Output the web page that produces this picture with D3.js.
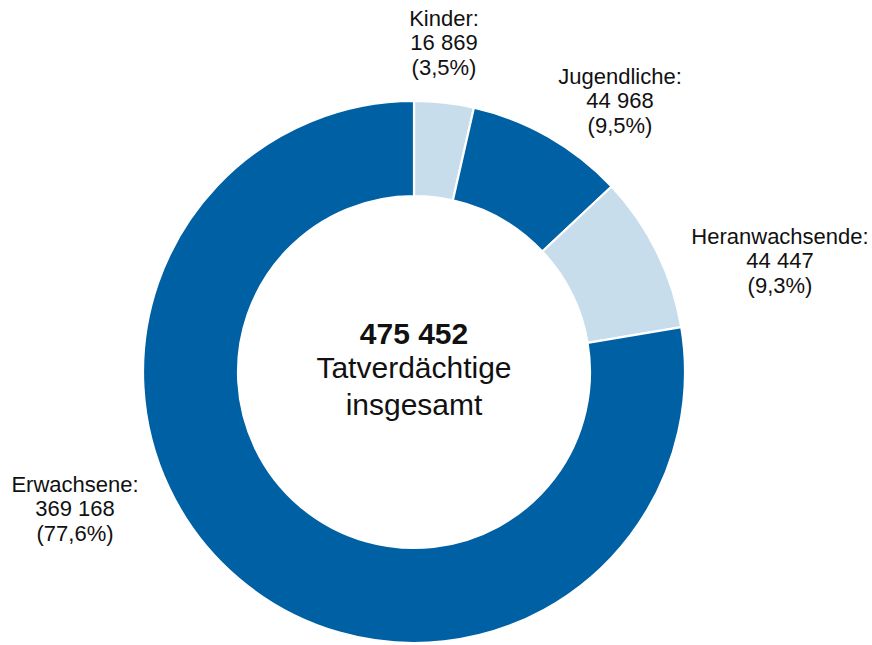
<!DOCTYPE html>
<html>
<head>
<meta charset="utf-8">
<script src="https://cdn.jsdelivr.net/npm/d3@7"></script>
<style>
  body { margin: 0; background: #fff; }
  text { font-family: "Liberation Sans", Arial, sans-serif; fill: #111; }
</style>
</head>
<body>
<svg id="chart" width="872" height="645"></svg>
<script>
// categories and counts (Tatverdächtige)
var categories = ["Kinder", "Jugendliche", "Heranwachsende", "Erwachsene"];
var values = [16869, 44968, 44447, 369168];
var shades = ["light", "dark", "light", "dark"];
var centerLines = ["Tatverdächtige", "insgesamt"];

var width = 872, height = 645;
var cx = 414, cy = 372;
var outerR = 271, innerR = 176;

var colors = { dark: "#0060a4", light: "#c8ddec" };

// label anchor (middle line baseline) relative to centre
var labelPos = {
    "Kinder":         [30, -322],
    "Jugendliche":    [206, -264],
    "Heranwachsende": [366, -104],
    "Erwachsene":     [-339, 144]
};

var de = d3.formatLocale({decimal: ",", thousands: " ", grouping: [3], currency: ["", " €"]});
var fmtNum = de.format(",d");
var fmtPct = de.format(".1f");

var total = d3.sum(values);
var data = categories.map(function (c, i) {
    return {name: c, value: values[i], shade: shades[i]};
});

var svg = d3.select("#chart");
var g = svg.append("g").attr("transform", "translate(" + cx + "," + cy + ")");

var pie = d3.pie().sort(null).value(function (d) { return d.value; });
var arc = d3.arc().innerRadius(innerR).outerRadius(outerR);

g.selectAll("path.slice")
    .data(pie(data))
    .enter().append("path")
    .attr("class", "slice")
    .attr("d", arc)
    .attr("fill", function (d) { return colors[d.data.shade]; })
    .attr("stroke", "#fff")
    .attr("stroke-width", 2.2);

// slice labels
var lineH = 24.5;
data.forEach(function (d) {
    var p = labelPos[d.name];
    var t = g.append("text")
        .attr("text-anchor", "middle")
        .attr("font-size", 22);
    var lines = [d.name + ":", fmtNum(d.value), "(" + fmtPct(d.value / total * 100) + "%)"];
    lines.forEach(function (l, i) {
        t.append("tspan")
            .attr("x", p[0])
            .attr("y", p[1] + (i - 1) * lineH)
            .text(l);
    });
});

// centre text
g.append("text")
    .attr("text-anchor", "middle")
    .attr("y", -28)
    .attr("font-size", 30)
    .attr("font-weight", "bold")
    .text(fmtNum(total));

centerLines.forEach(function (l, i) {
    g.append("text")
        .attr("text-anchor", "middle")
        .attr("y", 6 + i * 37)
        .attr("font-size", 30)
        .text(l);
});
</script>
</body>
</html>
